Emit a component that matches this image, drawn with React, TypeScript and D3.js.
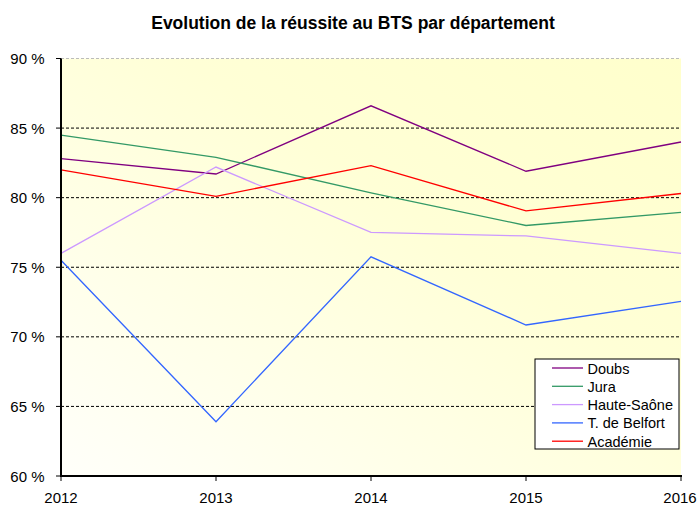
import React from "react";
import * as d3 from "d3";

const years = [2012, 2013, 2014, 2015, 2016];
const doubs = [82.8, 81.7, 86.6, 81.9, 84.0];
const jura = [84.5, 82.9, 80.35, 78.0, 78.95];
const hauteSaone = [76.0, 82.2, 77.5, 77.25, 76.0];
const belfort = [75.5, 63.9, 75.75, 70.85, 72.55];
const academie = [82.0, 80.1, 82.3, 79.05, 80.3];
const yTicks = [60, 65, 70, 75, 80, 85, 90];

const seriesNames = ["Doubs", "Jura", "Haute-Saône", "T. de Belfort", "Académie"];
const seriesValues = [doubs, jura, hauteSaone, belfort, academie];
const seriesColors = ["#800080", "#339966", "#CC99FF", "#3366FF", "#FF0000"];

export default function App() {
  const W = 698, H = 507;
  const left = 61, right = 681, top = 58.5, bottom = 476;
  const x = d3.scalePoint<number>().domain(years).range([left, right]);
  const y = d3.scaleLinear().domain([60, 90]).range([bottom, top]);
  const line = d3.line<number>().x((_, i) => x(years[i]) as number).y((d) => y(d));
  const font = "'Liberation Sans', Arial, sans-serif";

  return (
    <svg width={W} height={H} style={{ position: "absolute", left: 0, top: 0 }} fontFamily={font}>
      <defs>
        <linearGradient id="bg" x1="0" y1="1" x2="1" y2="0">
          <stop offset="0" stopColor="#FFFFFA" />
          <stop offset="0.6" stopColor="#FFFFD6" />
          <stop offset="1" stopColor="#FFFFCC" />
        </linearGradient>
      </defs>
      <rect x={0} y={0} width={W} height={H} fill="#fff" />
      <text x={353} y={29} textAnchor="middle" fontSize={17.5} fontWeight="bold" fill="#000">
        Evolution de la réussite au BTS par département
      </text>
      <rect x={left} y={top} width={right - left} height={bottom - top} fill="url(#bg)" />
      {yTicks.filter((t) => t > 60).map((t) => (
        <line key={t} x1={left} x2={right} y1={y(t)} y2={y(t)}
          stroke={t === 90 ? "#bbbbbb" : "#000"} strokeWidth={1} strokeDasharray="3,2" />
      ))}
      {seriesValues.map((vals, i) => (
        <path key={i} d={line(vals) || ""} fill="none" stroke={seriesColors[i]} strokeWidth={1.3} />
      ))}
      <line x1={left} x2={left} y1={top} y2={bottom + 1} stroke="#000" strokeWidth={2} />
      <line x1={left - 1} x2={right + 1} y1={bottom} y2={bottom} stroke="#000" strokeWidth={2} />
      {yTicks.map((t) => (
        <g key={t}>
          <line x1={left - 5} x2={left} y1={y(t)} y2={y(t)} stroke="#000" strokeWidth={1} />
          <text x={44.5} y={y(t) + 5.5} textAnchor="end" fontSize={15} fill="#000">{t} %</text>
        </g>
      ))}
      {years.map((yr) => (
        <g key={yr}>
          <line x1={x(yr)} x2={x(yr)} y1={bottom} y2={bottom + 5} stroke="#000" strokeWidth={1} />
          <text x={Math.min(x(yr) as number, 680)} y={503} textAnchor="middle" fontSize={15} fill="#000">{yr}</text>
        </g>
      ))}
      <rect x={535} y={359} width={144} height={90} fill="#fff" stroke="#000" strokeWidth={1} />
      {seriesNames.map((n, i) => (
        <g key={n}>
          <line x1={552} x2={583} y1={368 + i * 18.3} y2={368 + i * 18.3} stroke={seriesColors[i]} strokeWidth={1.3} />
          <text x={587.5} y={373.5 + i * 18.3} fontSize={14.5} fill="#000">{n}</text>
        </g>
      ))}
    </svg>
  );
}
